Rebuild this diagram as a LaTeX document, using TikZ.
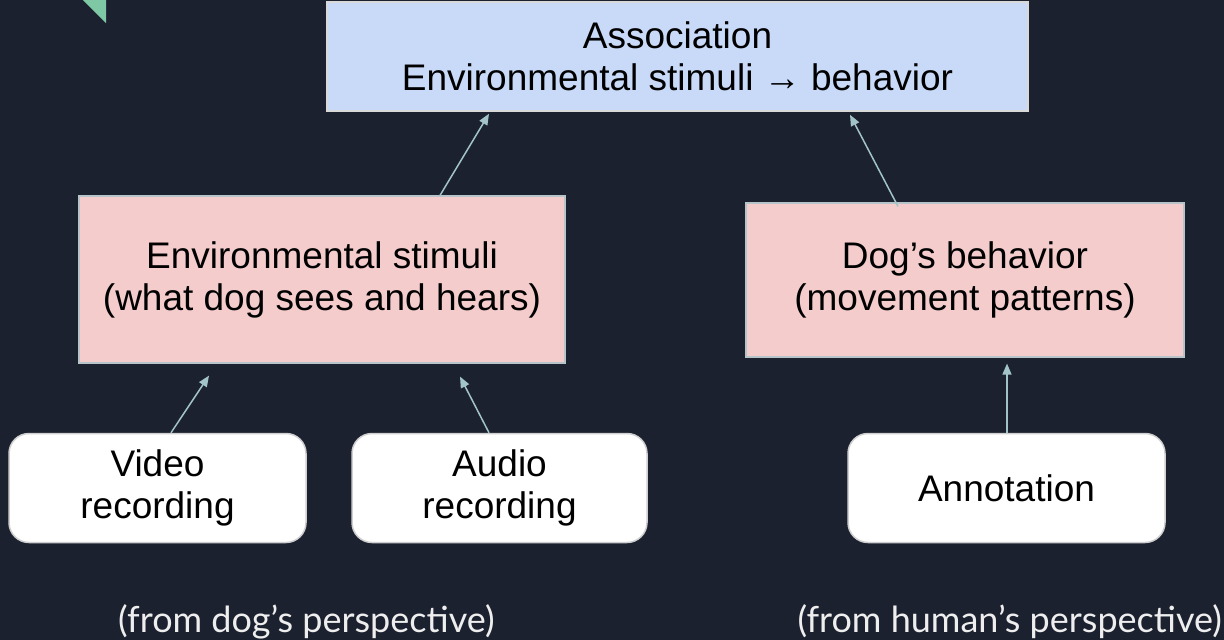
\documentclass[tikz,border=0pt]{standalone}
\usepackage{fontspec}
\setmainfont{Liberation Sans}
\newfontfamily\latofont{Lato}
\usetikzlibrary{arrows.meta}
\definecolor{bg}{HTML}{1C2130}
\definecolor{assocfill}{HTML}{C9DAF8}
\definecolor{assocline}{HTML}{D9D9D9}
\definecolor{pinkfill}{HTML}{F4CCCC}
\definecolor{pinkline}{HTML}{B7C4C9}
\definecolor{whiteline}{HTML}{CFCFCF}
\definecolor{arrowc}{HTML}{A2C4C9}
\definecolor{greentri}{HTML}{7EC8A6}
\definecolor{labelc}{HTML}{EEEEEE}
\tikzset{
  boxtext/.style={font=\fontsize{37}{42}\selectfont, align=center, text=black, inner sep=0pt},
  assocbox/.style={boxtext, rectangle, fill=assocfill, draw=assocline, line width=1.5pt},
  pinkbox/.style={boxtext, rectangle, fill=pinkfill, draw=pinkline, line width=1.2pt},
  srcbox/.style={boxtext, rectangle, rounded corners=20pt, fill=white, draw=whiteline, line width=1.5pt},
  arr/.style={draw=arrowc, line width=1.5pt, -{Triangle[length=11pt,width=9pt]}},
  perspective/.style={font=\latofont\fontsize{36}{40}\selectfont, text=labelc, inner sep=0pt}
}
\begin{document}
\begin{tikzpicture}[x=1pt,y=-1pt]
\fill[bg] (0,0) rectangle (1224,640);
\useasboundingbox (0,0) rectangle (1224,640);
\fill[greentri] (83,0) -- (106,0) -- (106,23) -- cycle;

\node[assocbox, minimum width=701pt, minimum height=109pt] (assoc) at (677.5,56.5)
  {Association\\Environmental stimuli → behavior};
\node[pinkbox, minimum width=486pt, minimum height=167pt] (env) at (322,279.5)
  {Environmental stimuli\\(what dog sees and hears)};
\node[pinkbox, minimum width=438pt, minimum height=154pt] (dog) at (965,280)
  {Dog’s behavior\\(movement patterns)};
\node[srcbox, minimum width=297pt, minimum height=109pt] (video) at (157.5,488)
  {Video\\recording};
\node[srcbox, minimum width=295pt, minimum height=109pt] (audio) at (499.5,488)
  {Audio\\recording};
\node[srcbox, minimum width=317pt, minimum height=109pt] (annot) at (1006.5,488)
  {Annotation};

\draw[arr] ([xshift=118pt]env.north) -- ([xshift=-188.5pt,yshift=-2pt]assoc.south);
\draw[arr] ([xshift=-67pt,yshift=-4pt]dog.north) -- ([xshift=172.5pt,yshift=-3pt]assoc.south);
\draw[arr] ([xshift=13.5pt]video.north) -- ([xshift=-113pt,yshift=-12pt]env.south);
\draw[arr] ([xshift=-10.5pt]audio.north) -- ([xshift=138pt,yshift=-13pt]env.south);
\draw[arr] ([xshift=0.5pt]annot.north) -- ([xshift=42pt,yshift=-6pt]dog.south);

\node[perspective, anchor=base west] (dogp) at (118,632) {(from dog’s perspective)};
\node[perspective, anchor=base east] (humanp) at (1222,632) {(from human’s perspective)};
\end{tikzpicture}
\end{document}
